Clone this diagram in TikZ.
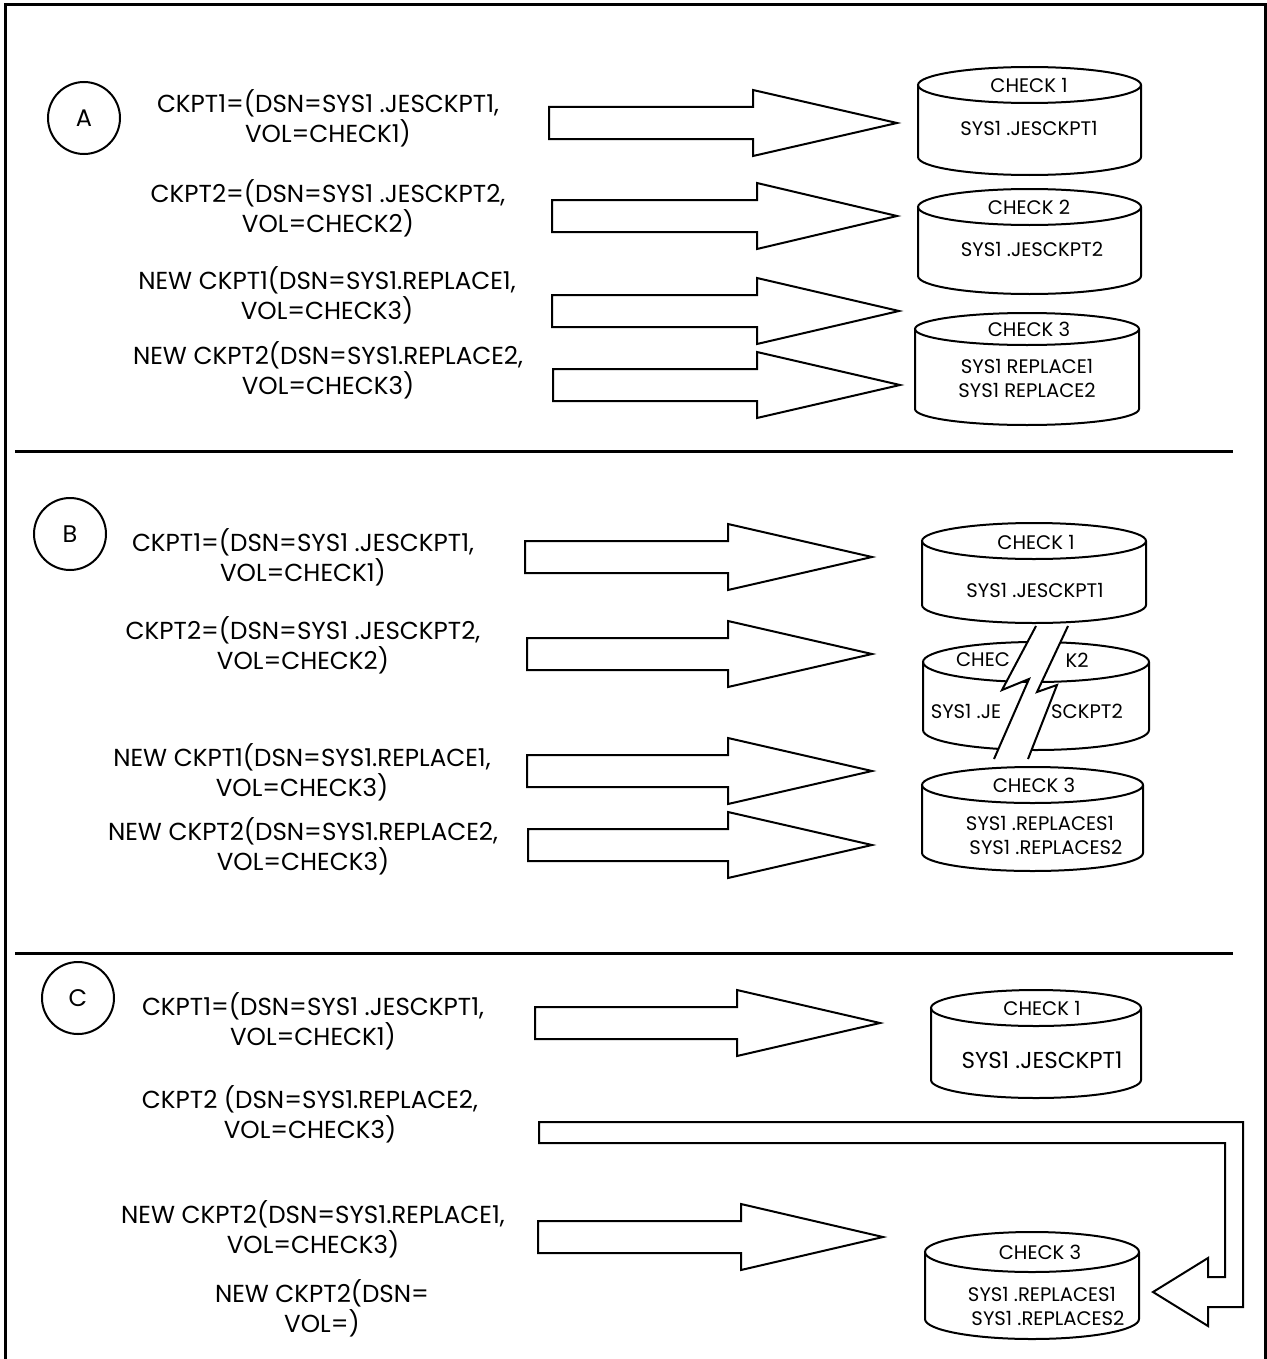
\documentclass[tikz,border=0pt]{standalone}
\usepackage{fontspec}
\setmainfont{Poppins}

% one unit = one pixel of the original drawing, y grows downwards
\tikzset{
	frame/.style={line width=1.5pt},
	block/.style={draw, line width=1pt, fill=white, line join=miter},
	disk/.style={draw, line width=1pt},
	code/.style={align=center, inner sep=0pt, font=\fontsize{12.3}{15}\selectfont},
	label/.style={align=center, inner sep=0pt, font=\fontsize{9.8}{12}\selectfont},
	tag/.style={circle, draw, line width=1pt, minimum size=36pt, inner sep=0pt, font=\fontsize{12}{12}\selectfont}
}

% block arrow: left x, centre y, head back x, tip x
\newcommand{\blockarrow}[4]{%
	\draw[block] (#1,#2-16) -- (#3,#2-16) -- (#3,#2-33) -- (#4,#2) -- (#3,#2+33) -- (#3,#2+16) -- (#1,#2+16) -- cycle;}

% disk: centre x, top y, bottom y, x radius, y radius
\newcommand{\disk}[5]{%
	\draw[disk] (#1-#4,#2) -- (#1-#4,#3) arc[start angle=180, end angle=360, x radius=#4*0.5pt, y radius=#5*0.5pt] -- (#1+#4,#2);
	\draw[disk] (#1,#2) ellipse[x radius=#4*0.5pt, y radius=#5*0.5pt];}

\begin{document}
\begin{tikzpicture}[x=0.5pt, y=-0.5pt]
	\useasboundingbox (0,0) rectangle (1267,1359);
	\draw[frame] (5,1359) -- (5,5) -- (1265,5) -- (1265,1359);
	\draw[frame] (15,451) -- (1233,451);
	\draw[frame] (15,953) -- (1233,953);

	% ---- A ----
	\node[tag] (tagA) at (84,118) {A};
	\node[code] (a1) at (328,118) {CKPT1=(DSN=SYS1 .JESCKPT1,\\VOL=CHECK1)};
	\node[code] (a2) at (328,208) {CKPT2=(DSN=SYS1 .JESCKPT2,\\VOL=CHECK2)};
	\node[code] (a3) at (327,295) {NEW CKPT1(DSN=SYS1.REPLACE1,\\VOL=CHECK3)};
	\node[code] (a4) at (328,370) {NEW CKPT2(DSN=SYS1.REPLACE2,\\VOL=CHECK3)};
	\foreach \l/\y/\b/\t in {549/123/753/897, 552/216/757/897, 552/311/757/899, 553/385/757/900}
		\blockarrow{\l}{\y}{\b}{\t};
	\disk{1029.5}{85}{157}{111.5}{18}
	\node[label] (a1top) at (1029,85) {CHECK 1};
	\node[label] (a1ds) at (1029,128) {SYS1 .JESCKPT1};
	\disk{1029.5}{207}{276}{111.5}{18}
	\node[label] (a2top) at (1029,207) {CHECK 2};
	\node[label] (a2ds) at (1032,249) {SYS1 .JESCKPT2};
	\disk{1027}{329}{409}{112}{16}
	\node[label] (a3top) at (1029,329) {CHECK 3};
	\node[label] (a3ds) at (1027,378) {SYS1 REPLACE1\\SYS1 REPLACE2};

	% ---- B ----
	\node[tag] (tagB) at (70,534) {B};
	\node[code] (b1) at (303,557) {CKPT1=(DSN=SYS1 .JESCKPT1,\\VOL=CHECK1)};
	\node[code] (b2) at (303,645) {CKPT2=(DSN=SYS1 .JESCKPT2,\\VOL=CHECK2)};
	\node[code] (b3) at (302,772) {NEW CKPT1(DSN=SYS1.REPLACE1,\\VOL=CHECK3)};
	\node[code] (b4) at (303,846) {NEW CKPT2(DSN=SYS1.REPLACE2,\\VOL=CHECK3)};
	\foreach \l/\y/\b/\t in {525/557/728/872, 527/654/728/872, 527/771/728/872, 528/845/728/872}
		\blockarrow{\l}{\y}{\b}{\t};
	\disk{1034}{541}{605}{112}{18}
	\node[label] (b1top) at (1036,542) {CHECK 1};
	\node[label] (b1ds) at (1035,590) {SYS1 .JESCKPT1};
	\disk{1036}{662}{730}{113}{20}
	% the break through the second volume
	\fill[white] (1036,626) -- (1002,690) -- (1029,679) -- (994,759) -- (1028,759) -- (1057,685) -- (1037,692) -- (1068,626) -- cycle;
	\draw[disk] (1036,626) -- (1002,690) -- (1029,679) -- (994,759);
	\draw[disk] (1068,626) -- (1037,692) -- (1057,685) -- (1028,759);
	\node[label] (b2l) at (983,660) {CHEC};
	\node[label] (b2r) at (1077,660) {K2};
	\node[label] (b2dl) at (966,711) {SYS1 .JE};
	\node[label] (b2dr) at (1087,711) {SCKPT2};
	\disk{1032.5}{785}{853}{110.5}{18}
	\node[label] (b3top) at (1034,785) {CHECK 3};
	\node[label] (b3ds) at (1040,835) {SYS1 .REPLACES1\\\hspace*{6pt}SYS1 .REPLACES2};

	% ---- C ----
	\node[tag] (tagC) at (78,998) {C};
	\node[code] (c1) at (313,1021) {CKPT1=(DSN=SYS1 .JESCKPT1,\\VOL=CHECK1)};
	\node[code] (c2) at (310,1114) {CKPT2 (DSN=SYS1.REPLACE2,\\VOL=CHECK3)};
	\node[code] (c3) at (313,1229) {NEW CKPT2(DSN=SYS1.REPLACE1,\\VOL=CHECK3)};
	\node[code] (c4) at (322,1308) {NEW CKPT2(DSN=\\VOL=)};
	\blockarrow{535}{1023}{737}{880}
	\blockarrow{538}{1237}{741}{883}
	% bent arrow round to the third volume
	\draw[block] (539,1122) -- (1243,1122) -- (1243,1307) -- (1208,1307) -- (1208,1326) -- (1153,1292)
		-- (1208,1258) -- (1208,1277) -- (1225,1277) -- (1225,1143) -- (539,1143) -- cycle;
	\disk{1036}{1008}{1080}{105}{18}
	\node[label] (c1top) at (1042,1008) {CHECK 1};
	\node[label, font=\fontsize{11.5}{12}\selectfont] (c1ds) at (1042,1060) {SYS1 .JESCKPT1};
	\disk{1032}{1252}{1319}{107}{20}
	\node[label] (c3top) at (1040,1252) {CHECK 3};
	\node[label] (c3ds) at (1042,1306) {SYS1 .REPLACES1\\\hspace*{6pt}SYS1 .REPLACES2};
\end{tikzpicture}
\end{document}
